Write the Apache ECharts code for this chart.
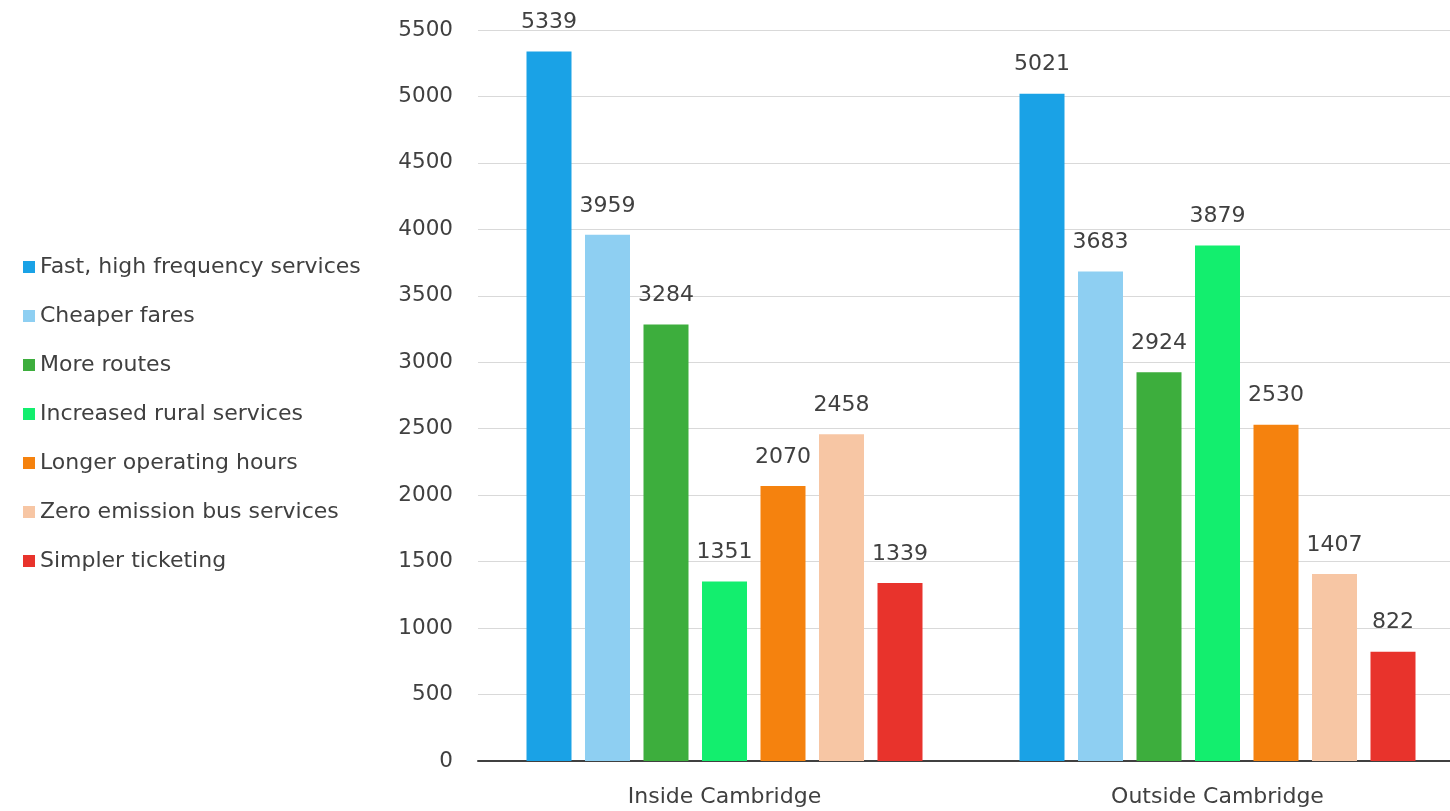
<!DOCTYPE html>
<html><head><meta charset="utf-8">
<script src="https://cdn.jsdelivr.net/npm/echarts@6/dist/echarts.min.js"></script>
<style>html,body{margin:0;padding:0;background:#fff;overflow:hidden}#c{width:1464px;height:811px}</style>
</head><body><div id="c"></div>
<script>
const categories = ['Inside Cambridge', 'Outside Cambridge'];
const seriesNames = ['Fast, high frequency services','Cheaper fares','More routes','Increased rural services','Longer operating hours','Zero emission bus services','Simpler ticketing'];
const fastHighFrequency = [5339, 5021];
const cheaperFares = [3959, 3683];
const moreRoutes = [3284, 2924];
const increasedRural = [1351, 3879];
const longerHours = [2070, 2530];
const zeroEmission = [2458, 1407];
const simplerTicketing = [1339, 822];
const yTicks = [0,500,1000,1500,2000,2500,3000,3500,4000,4500,5000,5500];

const values = [fastHighFrequency, cheaperFares, moreRoutes, increasedRural, longerHours, zeroEmission, simplerTicketing];
const colors = ['#1AA2E6','#8ECFF2','#3DAE3D','#13EE6E','#F5820E','#F7C6A4','#E8332C'];
const font = '"DejaVu Sans", sans-serif';
const txt = '#404040';

const chart = echarts.init(document.getElementById('c'));
chart.setOption({
  animation: false,
  textStyle: {fontFamily: font},
  legend: {
    orient: 'vertical', left: 18, top: 251,
    itemWidth: 12, itemHeight: 12, itemGap: 27,
    icon: 'rect',
    textStyle: {fontSize: 22, color: txt, fontFamily: font},
    data: seriesNames
  },
  grid: {left: 478, right: 0, top: 30, bottom: 50},
  xAxis: {
    type: 'category', data: categories,
    axisLine: {lineStyle: {color: '#404040', width: 2}},
    axisTick: {show: false},
    axisLabel: {fontSize: 22, color: txt, margin: 25, fontFamily: font}
  },
  yAxis: {
    type: 'value', min: yTicks[0], max: yTicks[yTicks.length - 1], interval: yTicks[1] - yTicks[0],
    axisLine: {show: false}, axisTick: {show: false},
    axisLabel: {fontSize: 21.5, color: txt, margin: 25, fontFamily: font, formatter: v => String(v)},
    splitLine: {lineStyle: {color: '#D9D9D9', width: 1}}
  },
  series: seriesNames.map((n, i) => ({
    name: n, type: 'bar', data: values[i],
    barWidth: 45, barGap: '30%',
    itemStyle: {color: colors[i]},
    label: {show: true, position: 'top', distance: 18, fontSize: 22, color: txt, fontFamily: font}
  }))
});
</script></body></html>
